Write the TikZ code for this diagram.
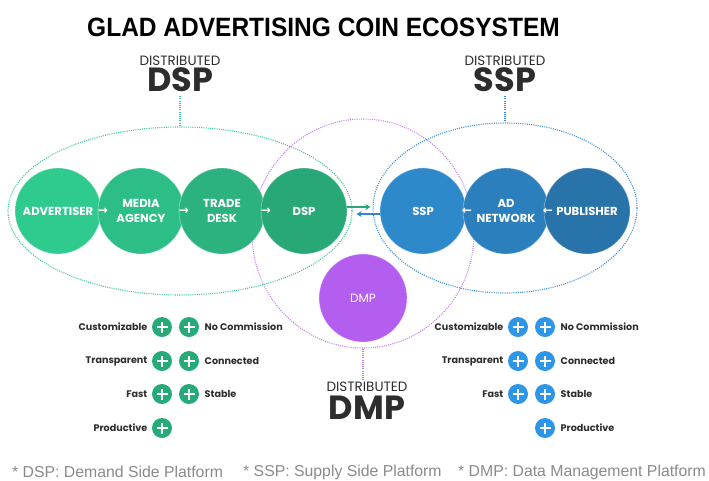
\documentclass[tikz,border=0pt]{standalone}
\usepackage{fontspec}
\usetikzlibrary{shapes.geometric,arrows.meta}
\newfontfamily\popfont{Poppins}
\newfontfamily\headfont{Liberation Sans}
\newfontfamily\arrowfont{DejaVu Sans}

\definecolor{advC}{RGB}{47,203,142}
\definecolor{medC}{RGB}{45,190,135}
\definecolor{trdC}{RGB}{43,178,126}
\definecolor{dspC}{RGB}{40,168,118}
\definecolor{sspC}{RGB}{46,137,202}
\definecolor{netC}{RGB}{43,127,189}
\definecolor{pubC}{RGB}{40,116,170}
\definecolor{dmpC}{RGB}{180,94,240}
\definecolor{plusG}{RGB}{38,170,120}
\definecolor{plusB}{RGB}{45,150,230}
\definecolor{zoneG}{RGB}{60,200,150}
\definecolor{zoneB}{RGB}{60,140,210}
\definecolor{zoneP}{RGB}{195,125,245}
\definecolor{inkC}{RGB}{45,45,45}
\definecolor{footC}{RGB}{138,138,138}

\begin{document}
\begin{tikzpicture}[x=1pt,y=-1pt,
  zone/.style={ellipse, inner sep=0pt, line width=1.1pt, dash pattern=on 1pt off 1.2pt},
  ball/.style={circle, minimum size=86pt, inner sep=0pt, align=center, text=white,
    draw=white, draw opacity=0.35, line width=0.8pt,
    font=\popfont\bfseries\fontsize{11.6}{15}\selectfont},
  flow/.style={text=white, inner sep=0pt, font=\arrowfont\bfseries\fontsize{12}{12}\selectfont},
  distsmall/.style={text=inkC, inner sep=1pt, font=\popfont\fontsize{13.5}{14}\selectfont},
  distbig/.style={text=inkC, inner sep=4pt, font=\popfont\bfseries\fontsize{33.5}{36}\selectfont},
  feat/.style={text=inkC, inner sep=1.5pt, font=\popfont\bfseries\fontsize{9.6}{11}\selectfont},
  plusbase/.style={circle, minimum size=20pt, inner sep=0pt,
    path picture={\draw[white, line width=2.5pt]
      ([xshift=-5.5pt]path picture bounding box.center) -- ([xshift=5.5pt]path picture bounding box.center)
      ([yshift=-5.5pt]path picture bounding box.center) -- ([yshift=5.5pt]path picture bounding box.center);}},
  plusg/.style={plusbase, fill=plusG},
  plusb/.style={plusbase, fill=plusB},
  foot/.style={text=footC, anchor=west, inner sep=0pt, font=\headfont\fontsize{15.8}{17}\selectfont},
  link/.style={line width=1.5pt, -{Stealth[length=5pt,width=6pt]}}
]
\useasboundingbox (0,0) rectangle (709,480);

% title
\node[inner sep=0pt] (title) at (323.5,27)
  {\headfont\bfseries\fontsize{26.5}{30}\selectfont\scalebox{0.925}[1]{GLAD ADVERTISING COIN ECOSYSTEM}};

% dotted zones
\node[zone, draw=zoneG, minimum width=344pt, minimum height=168pt] (zoneDSP) at (180,211) {};
\node[zone, draw=zoneB, minimum width=264pt, minimum height=170pt] (zoneSSP) at (505,208) {};
\node[zone, draw=zoneP, minimum width=222pt, minimum height=229pt] (zoneDMP) at (363,233.5) {};

% zone labels
\node[distsmall] (dspdist) at (180,61) {DISTRIBUTED};
\node[distbig]   (dspbig)  at (180,80) {DSP};
\node[distsmall] (sspdist) at (505,61) {DISTRIBUTED};
\node[distbig]   (sspbig)  at (505,80) {SSP};
\node[distsmall] (dmpdist) at (367,387) {DISTRIBUTED};
\node[distbig]   (dmpbig)  at (367,408) {DMP};

\draw[zone, draw=zoneG] (dspbig.south) -- (zoneDSP.north);
\draw[zone, draw=zoneB] (sspbig.south) -- (zoneSSP.north);
\draw[zone, draw=zoneP] (zoneDMP.south) -- (zoneDMP.south |- dmpdist.north);

% demand side chain
\node[ball, fill=advC] (adv) at (58,211)  {ADVERTISER};
\node[ball, fill=medC] (med) at (141,211) {MEDIA\\AGENCY};
\node[ball, fill=trdC] (trd) at (222,211) {TRADE\\DESK};
\node[ball, fill=dspC] (dsp) at (304,211) {DSP};

% supply side chain
\node[ball, fill=sspC] (ssp) at (423,211) {SSP};
\node[ball, fill=netC] (net) at (506,211) {AD\\NETWORK};
\node[ball, fill=pubC] (pub) at (587,211) {PUBLISHER};

% data management
\node[ball, fill=dmpC, minimum size=88pt, font=\popfont\fontsize{12}{14}\selectfont] (dmp) at (363,298) {DMP};

% flow marks inside the chains
\node[flow] (f1) at (103,211) {→};
\node[flow] (f2) at (184,211) {→};
\node[flow] (f3) at (266,211) {→};
\node[flow] (f4) at (467,211) {←};
\node[flow] (f5) at (548,211) {←};

% exchange between DSP and SSP
\draw[link, draw=dspC] ([yshift=4pt]dsp.east) -- ++(23,0);
\draw[link, draw=sspC] ([yshift=-3pt]ssp.west) -- ++(-23,0);

% demand side features
\node[plusg] (gl1) at (162,327) {};
\node[plusg] (gr1) at (189,327) {};
\node[plusg] (gl2) at (162,361) {};
\node[plusg] (gr2) at (189,361) {};
\node[plusg] (gl3) at (162,394) {};
\node[plusg] (gr3) at (189,394) {};
\node[plusg] (gl4) at (162,428) {};
\node[feat, anchor=east] (gt1) at (149,327) {Customizable};
\node[feat, anchor=east] (gt2) at (149,361) {Transparent};
\node[feat, anchor=east] (gt3) at (149,394) {Fast};
\node[feat, anchor=east] (gt4) at (149,428) {Productive};
\node[feat, anchor=west] (gu1) at (203,327) {No Commission};
\node[feat, anchor=west] (gu2) at (203,361) {Connected};
\node[feat, anchor=west] (gu3) at (203,394) {Stable};

% supply side features
\node[plusb] (bl1) at (518,327) {};
\node[plusb] (br1) at (545,327) {};
\node[plusb] (bl2) at (518,361) {};
\node[plusb] (br2) at (545,361) {};
\node[plusb] (bl3) at (518,394) {};
\node[plusb] (br3) at (545,394) {};
\node[plusb] (br4) at (545,428) {};
\node[feat, anchor=east] (bt1) at (505,327) {Customizable};
\node[feat, anchor=east] (bt2) at (505,361) {Transparent};
\node[feat, anchor=east] (bt3) at (505,394) {Fast};
\node[feat, anchor=west] (bu1) at (559,327) {No Commission};
\node[feat, anchor=west] (bu2) at (559,361) {Connected};
\node[feat, anchor=west] (bu3) at (559,394) {Stable};
\node[feat, anchor=west] (bu4) at (559,428) {Productive};

% glossary
\node[foot] (gdsp) at (12,472) {* DSP: Demand Side Platform};
\node[foot] (gssp) at (243,472) {* SSP: Supply Side Platform};
\node[foot] (gdmp) at (458,472) {* DMP: Data Management Platform};
\end{tikzpicture}
\end{document}
